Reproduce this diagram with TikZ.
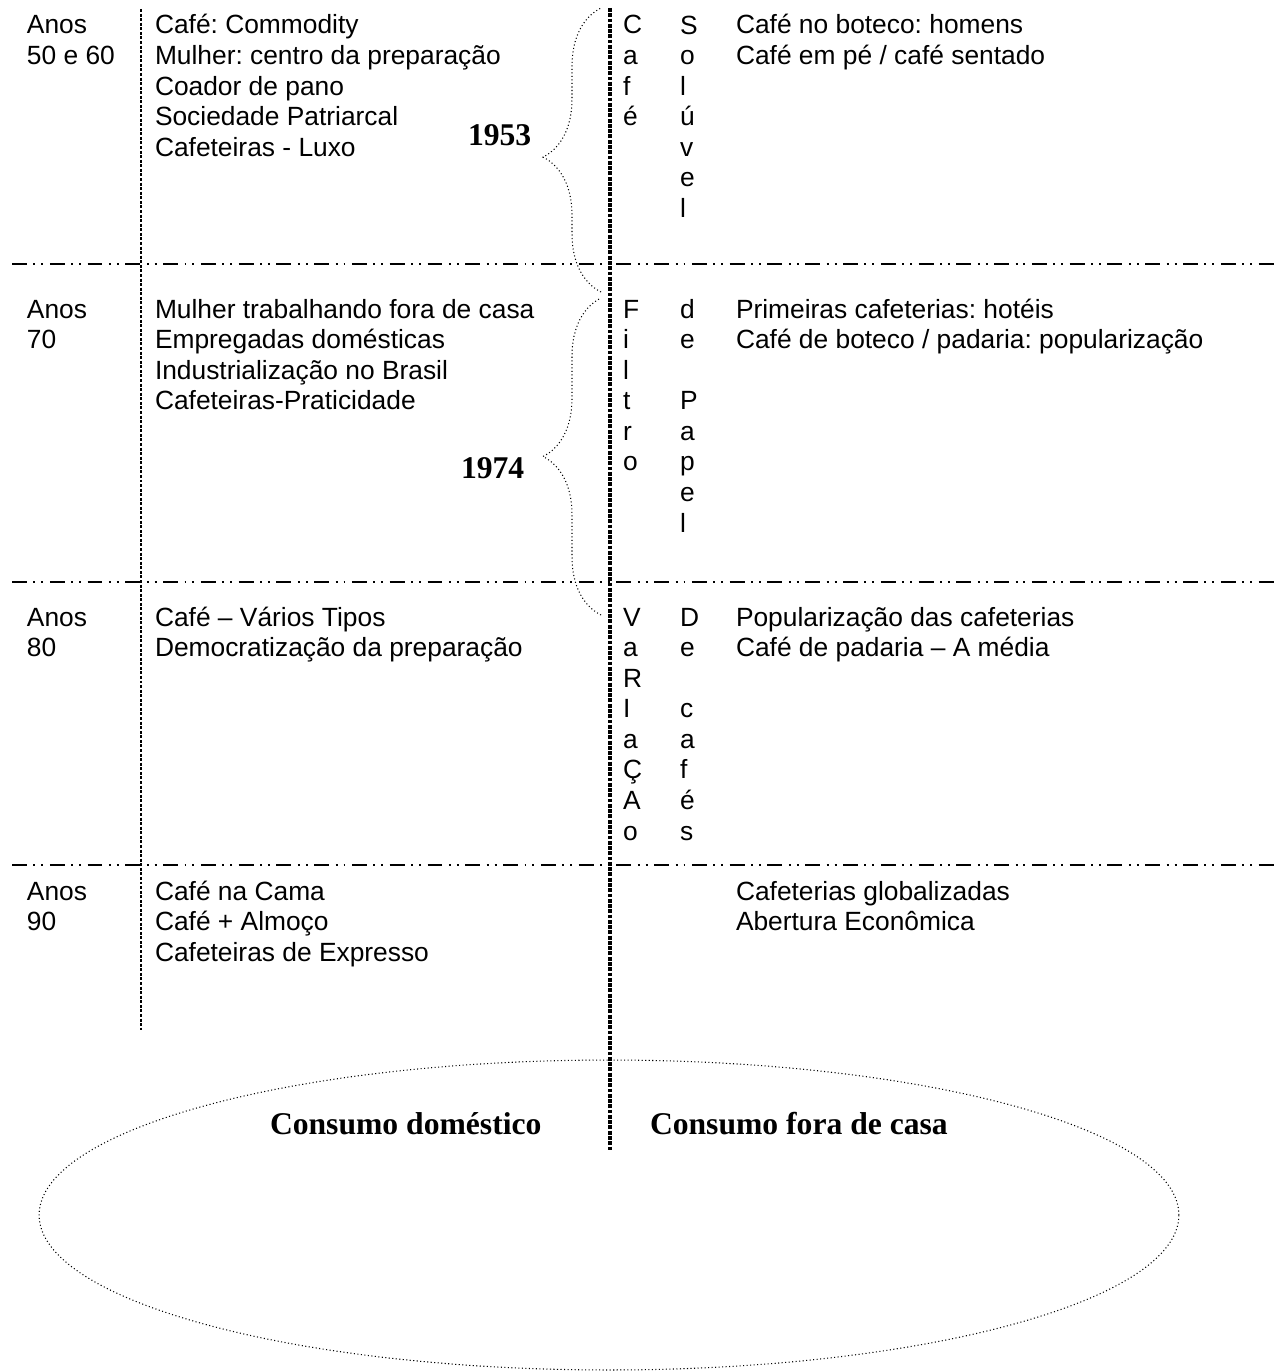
\documentclass[tikz,border=0pt]{standalone}
\usepackage{fontspec}
\setmainfont{Liberation Serif}
\setsansfont{Liberation Sans}
\usetikzlibrary{decorations.pathreplacing}
\frenchspacing

\begin{document}
\begin{tikzpicture}[x=0.02cm, y=-0.02cm,
    every node/.style={inner sep=0pt, outer sep=0pt},
    txt/.style={anchor=north west, align=left, font=\sffamily\fontsize{15}{17.4}\selectfont},
    bigbold/.style={anchor=base west, font=\bfseries\fontsize{18}{21}\selectfont},
    rowline/.style={line width=0.95pt, dash pattern=on 8.5pt off 3.7pt on 1.1pt off 3.4pt on 1.1pt off 3.7pt},
    colline/.style={line width=0.8pt, dash pattern=on 1.7pt off 0.9pt},
    midline/.style={line width=1.9pt, dash pattern=on 2.2pt off 0.8pt},
    dotline/.style={line width=0.6pt, dash pattern=on 0.6pt off 1.4pt},
    yearbrace/.style={dotline, decorate, decoration={brace, amplitude=1.16cm, aspect=#1}}]

    \useasboundingbox (0,0) rectangle (1279,1372);

    % Grid lines
    \coordinate (h1l) at (12,264);  \coordinate (h1r) at (1279,264);
    \coordinate (h2l) at (12,582);  \coordinate (h2r) at (1279,582);
    \coordinate (h3l) at (12,865);  \coordinate (h3r) at (1279,865);
    \coordinate (vlt) at (141,9);   \coordinate (vlb) at (141,1030);
    \coordinate (vmt) at (610,8);   \coordinate (vmb) at (610,1151);
    \draw[rowline] (h1l) -- (h1r);
    \draw[rowline] (h2l) -- (h2r);
    \draw[rowline] (h3l) -- (h3r);
    \draw[colline] (vlt) -- (vlb);
    \draw[midline] (vmt) -- (vmb);

    % Anos 50 e 60
    \node[txt] (anos50) at (27,12.6) {\strut Anos\\50 e 60};
    \node[txt] (casa50) at (155,12.6) {\strut Café: Commodity\\Mulher: centro da preparação\\Coador de pano\\Sociedade Patriarcal\\Cafeteiras - Luxo};
    \node[txt] (cafeA) at (623,12.6) {\strut C\\a\\f\\é};
    \node[txt] (cafeB) at (680,12.6) {\strut S\\o\\l\\ú\\v\\e\\l};
    \node[txt] (fora50) at (736,12.6) {\strut Café no boteco: homens\\Café em pé / café sentado};

    % Anos 70
    \node[txt] (anos70) at (27,296.6) {\strut Anos\\70};
    \node[txt] (casa70) at (155,296.6) {\strut Mulher trabalhando fora de casa\\Empregadas domésticas\\Industrialização no Brasil\\Cafeteiras-Praticidade};
    \node[txt] (filtroA) at (623,296.6) {\strut F\\i\\l\\t\\r\\o};
    \node[txt] (filtroB) at (680,296.6) {\strut d\\e\\~\\P\\a\\p\\e\\l};
    \node[txt] (fora70) at (736,296.6) {\strut Primeiras cafeterias: hotéis\\Café de boteco / padaria: popularização};

    % Anos 80
    \node[txt] (anos80) at (27,604.6) {\strut Anos\\80};
    \node[txt] (casa80) at (155,604.6) {\strut Café – Vários Tipos\\Democratização da preparação};
    \node[txt] (variaA) at (623,604.6) {\strut V\\a\\R\\I\\a\\Ç\\A\\o};
    \node[txt] (variaB) at (680,604.6) {\strut D\\e\\~\\c\\a\\f\\é\\s};
    \node[txt] (fora80) at (736,604.6) {\strut Popularização das cafeterias\\Café de padaria – A média};

    % Anos 90
    \node[txt] (anos90) at (27,878.6) {\strut Anos\\90};
    \node[txt] (casa90) at (155,878.6) {\strut Café na Cama\\Café + Almoço\\Cafeteiras de Expresso};
    \node[txt] (fora90) at (736,878.6) {\strut Cafeterias globalizadas\\Abertura Econômica};

    % Braces with the years
    \coordinate (b1s) at (601,292); \coordinate (b1e) at (601,8);
    \coordinate (b2s) at (601,615); \coordinate (b2e) at (601,298);
    \draw[yearbrace=0.475] (b1s) -- (b1e);
    \draw[yearbrace=0.5] (b2s) -- (b2e);
    \node[bigbold] (y1953) at (468,145) {1953};
    \node[bigbold] (y1974) at (461,478) {1974};

    % Consumo
    \coordinate (ring) at (609,1215);
    \draw[dotline] (ring) ellipse [x radius=11.4cm, y radius=3.1cm];
    \node[bigbold] (domestico) at (270,1134) {Consumo doméstico};
    \node[bigbold] (fora) at (650,1134) {Consumo fora de casa};
\end{tikzpicture}
\end{document}
